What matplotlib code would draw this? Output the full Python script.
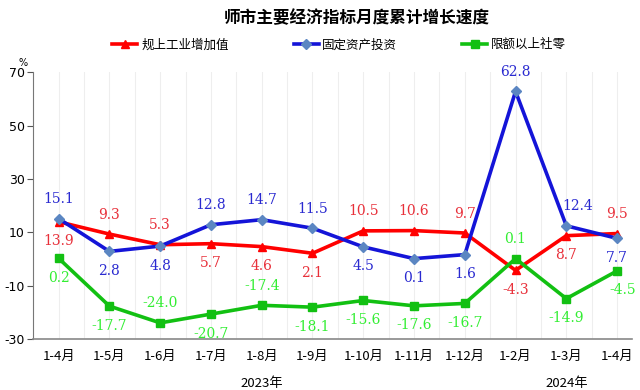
import matplotlib
matplotlib.use("Agg")
import matplotlib.pyplot as plt
from matplotlib.ticker import MultipleLocator

plt.rcParams["font.family"] = ["DejaVu Sans", "Noto Sans CJK SC"]
plt.rcParams["axes.unicode_minus"] = False

months = ["1-4月", "1-5月", "1-6月", "1-7月", "1-8月", "1-9月",
          "1-10月", "1-11月", "1-12月", "1-2月", "1-3月", "1-4月"]
industry = [13.9, 9.3, 5.3, 5.7, 4.6, 2.1, 10.5, 10.6, 9.7, -4.3, 8.7, 9.5]
investment = [15.1, 2.8, 4.8, 12.8, 14.7, 11.5, 4.5, 0.1, 1.6, 62.8, 12.4, 7.7]
retail = [0.2, -17.7, -24.0, -20.7, -17.4, -18.1, -15.6, -17.6, -16.7, 0.1, -14.9, -4.5]
# label side for each point: 1 above, -1 below
industry_side = [-1, 1, 1, -1, -1, -1, 1, 1, 1, -1, -1, 1]
investment_side = [1, -1, -1, 1, 1, 1, -1, -1, -1, 1, 1, -1]
retail_side = [-1, -1, 1, -1, 1, -1, -1, -1, -1, 1, -1, -1]
yticks = [-30, -10, 10, 30, 50, 70]
years = [("2023年", 4), ("2024年", 10)]

fig = plt.figure(figsize=(6.4, 3.9), dpi=100)
ax = fig.add_axes([0.052, 0.131, 0.936, 0.684])
x = list(range(len(months)))

series = [
    ("规上工业增加值", industry, industry_side, "#ff0000", "^", "#ff0000", "#e8303a"),
    ("固定资产投资", investment, investment_side, "#1414d8", "D", "#5b86c2", "#2a2ad0"),
    ("限额以上社零", retail, retail_side, "#12c012", "s", "#12c012", "#33ee33"),
]
handles = []
for name, vals, sides, lc, mk, mc, tc in series:
    ms = 5 if mk == "D" else 6
    h, = ax.plot(x, vals, color=lc, lw=2.6, marker=mk, ms=ms,
                 markerfacecolor=mc, markeredgecolor=mc, label=name, zorder=3)
    handles.append(h)
    for i, (v, s) in enumerate(zip(vals, sides)):
        dx = 0
        if name == "固定资产投资" and i == 10:
            dx = 8
        if name == "限额以上社零" and i == 11:
            dx = 4
        ax.annotate(f"{v:.1f}", (i, v), xytext=(dx, 9 * s), textcoords="offset points",
                    ha="center", va="bottom" if s > 0 else "top",
                    color=tc, fontsize=10, family=["DejaVu Serif", "Noto Sans CJK SC"],
                    zorder=4)

ax.set_xlim(-0.5, 11.3)
ax.set_ylim(-30, 70)
ax.set_yticks(yticks)
ax.set_xticks(x)
ax.set_xticklabels(months, fontsize=9.5, family=["Noto Sans CJK SC"])
ax.xaxis.set_minor_locator(MultipleLocator(0.5))
ax.grid(axis="x", which="both", color="#eeeeee", lw=0.8, zorder=0)
ax.tick_params(axis="y", labelsize=9, length=4, color="#555555", pad=2)
ax.tick_params(axis="x", which="both", length=0, pad=8)
for side in ["top", "right"]:
    ax.spines[side].set_visible(False)
ax.spines["left"].set_color("#777777")
ax.spines["bottom"].set_color("#888888")
ax.spines["bottom"].set_linewidth(1.2)

ax.text(-0.7, 71.5, "%", fontsize=7, ha="center", va="bottom")
for label, pos in years:
    ax.text(pos, -46.7, label, ha="center", va="center", fontsize=9.5,
            family=["Noto Sans CJK SC"], transform=ax.transData, clip_on=False)

fig.text(0.558, 0.953, "师市主要经济指标月度累计增长速度", ha="center", va="center",
         fontsize=12, fontweight="bold", family=["Noto Sans CJK SC"])
fig.legend(handles=handles, loc="center", bbox_to_anchor=(0.53, 0.885), ncol=3,
           frameon=False, prop={"family": "Noto Sans CJK SC", "size": 9},
           handlelength=2.0, columnspacing=5.2, handletextpad=0.3)

fig.savefig("out.png", dpi=100)
